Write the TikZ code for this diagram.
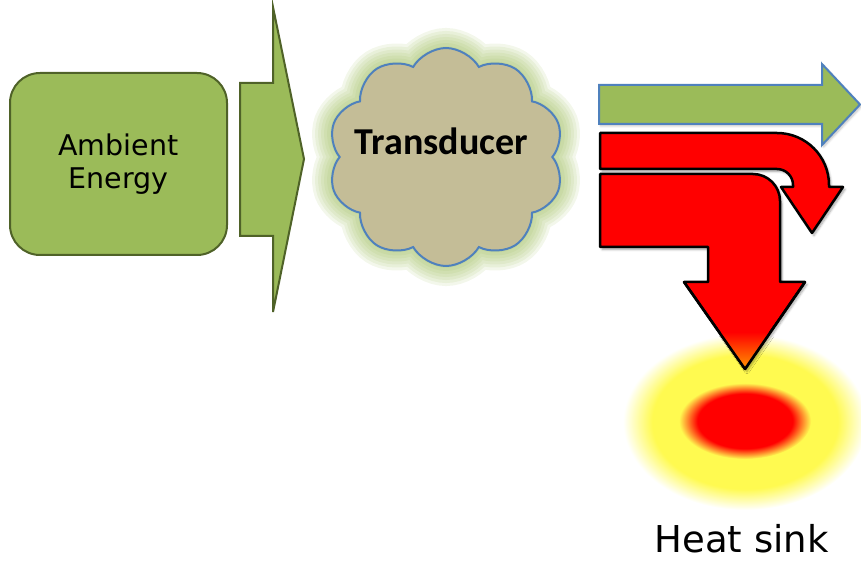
\documentclass[tikz,border=0pt]{standalone}
\usepackage{fontspec}
\setmainfont{DejaVu Sans}
\newfontfamily\calibri{Carlito}
\usepackage{tikz}
\usetikzlibrary{shapes.symbols,shadows.blur}
\usepackage{xcolor}
\definecolor{leafgreen}{HTML}{9BBB59}
\definecolor{darkleaf}{HTML}{4F6228}
\definecolor{cloudtan}{HTML}{C4BD97}
\definecolor{edgeblue}{HTML}{4F81BD}
\definecolor{sinkyellow}{RGB}{255,250,80}
\definecolor{tiporange}{RGB}{255,150,0}
\pgfdeclareradialshading{sinkglow}{\pgfpointorigin}{color(0bp)=(sinkyellow); color(19bp)=(sinkyellow); color(25bp)=(white); color(50bp)=(white)}
\pgfdeclareradialshading{sinkcore}{\pgfpointorigin}{color(0bp)=(red); color(18bp)=(red); color(25bp)=(sinkyellow); color(50bp)=(sinkyellow)}

\begin{document}
\begin{tikzpicture}[x=1pt, y=1pt,
	ambient/.style={draw=darkleaf, fill=leafgreen, line width=2pt, rounded corners=30pt, minimum width=217pt, minimum height=182pt, inner sep=0pt, align=center, font=\fontsize{28.5}{33}\selectfont},
	bigarrow/.style={draw=darkleaf, fill=leafgreen, line width=2pt},
	outarrow/.style={draw=edgeblue, fill=leafgreen, line width=2pt, blur shadow={shadow xshift=1.5pt, shadow yshift=-2pt, shadow blur steps=6, shadow opacity=25}},
	heatarrow/.style={draw=black, fill=red, line width=2.5pt, line join=round, blur shadow={shadow xshift=2pt, shadow yshift=-2.5pt, shadow blur steps=6, shadow opacity=35}},
	cloudshape/.style={cloud, cloud puffs=10, cloud puff arc=120, aspect=1.05, minimum width=236pt, minimum height=218pt, inner sep=0pt}]
	\useasboundingbox (0,0) rectangle (861,560);

	\shade[shading=sinkglow] (745,138) ellipse [x radius=122, y radius=88];
	\shade[shading=sinkcore] (745,139) ellipse [x radius=66, y radius=38];

	\node[ambient] (ambient) at (118.5,396) {Ambient\\Energy};
	\draw[bigarrow] (240,477) -- (273,477) -- (273,553) -- (304,401) -- (273,248) -- (273,324) -- (240,324) -- cycle;

	\foreach \w in {40,34,...,4}
		\node[cloudshape, draw=leafgreen, line width=\w pt, draw opacity=0.12] at (446,403) {};
	\node[cloudshape, draw=edgeblue, fill=cloudtan, line width=2pt] (transducer) at (446,403) {};
	\node[anchor=base, inner sep=0pt, font=\calibri\bfseries\fontsize{38}{44}\selectfont] (transtext) at (441.5,405) {Transducer};

	\draw[outarrow] (599,475) -- (822,475) -- (822,496) -- (860,455.5) -- (822,415) -- (822,436) -- (599,436) -- cycle;

	\draw[heatarrow] (600,427) -- (777,427) arc[start angle=90, end angle=0, radius=52] -- (829,373) -- (843,373) -- (812,327) -- (781,373) -- (793,373) -- (793,375) arc[start angle=0, end angle=90, radius=16] -- (600,391) -- cycle;
	\draw[heatarrow] (600,386) -- (753,386) arc[start angle=90, end angle=0, radius=27] -- (780,278) -- (805,278) -- (745,191) -- (684,278) -- (708,278) -- (708,313) -- (600,313) -- cycle;
	\begin{scope}
		\clip (805,278) -- (745,191) -- (684,278) -- cycle;
		\shade[top color=red, bottom color=tiporange] (680,228) rectangle (810,191);
	\end{scope}
	\draw[black, line width=2.5pt, line join=round] (805,278) -- (745,191) -- (684,278);

	\node[anchor=base, inner sep=0pt, font=\fontsize{37}{44}\selectfont] (heatsink) at (741.5,8) {Heat sink};
\end{tikzpicture}
\end{document}
